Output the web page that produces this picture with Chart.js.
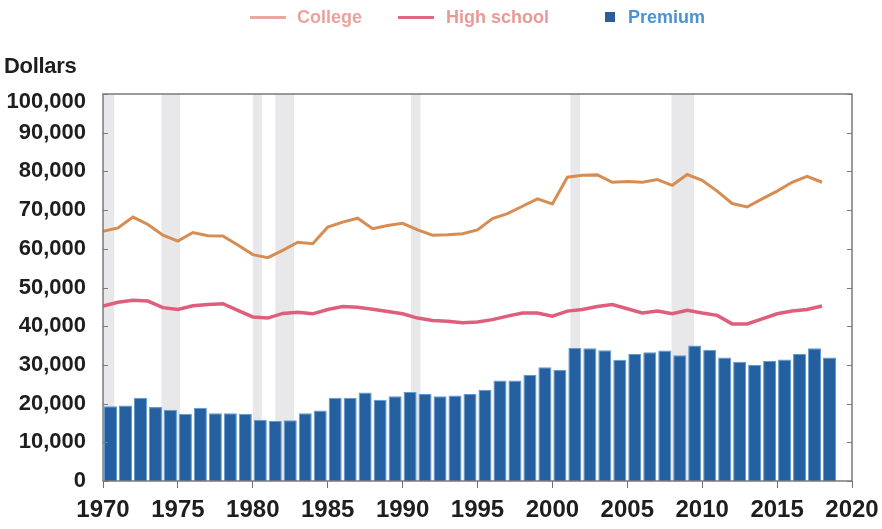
<!DOCTYPE html>
<html><head><meta charset="utf-8">
<script src="https://cdn.jsdelivr.net/npm/chart.js@4.4.1/dist/chart.umd.min.js"></script>
<style>
html,body{margin:0;padding:0;background:#fff;}
#wrap{position:relative;width:882px;height:529px;overflow:hidden;}
#c{position:absolute;left:0;top:0;}
.t{position:absolute;font-family:"Liberation Sans",Arial,sans-serif;font-weight:bold;white-space:nowrap;}
.sw{position:absolute;}
</style></head>
<body><div id="wrap"><canvas id="c" width="882" height="529"></canvas>
<div class="t" id="ytitle" style="left:4px;top:53px;font-size:22px;color:#1e1e1e;letter-spacing:-0.3px;">Dollars</div>
<div id="legend"></div>
</div>
<script>
const years = [1970,1971,1972,1973,1974,1975,1976,1977,1978,1979,1980,1981,1982,1983,1984,1985,1986,1987,1988,1989,1990,1991,1992,1993,1994,1995,1996,1997,1998,1999,2000,2001,2002,2003,2004,2005,2006,2007,2008,2009,2010,2011,2012,2013,2014,2015,2016,2017,2018];
const college = [64500,65400,68200,66300,63500,62000,64200,63400,63300,61000,
                 58500,57700,59600,61700,61300,65600,66900,67900,65200,66000,
                 66600,64900,63500,63600,63900,64900,67800,69100,71000,72900,
                 71600,78500,79000,79100,77200,77400,77200,77900,76400,79200,
                 77700,74900,71700,70800,72900,74900,77200,78700,77200];
const highSchool = [45200,46200,46700,46500,44800,44300,45300,45600,45800,44100,
                    42400,42100,43300,43600,43200,44300,45100,44900,44400,43800,
                    43200,42100,41500,41300,40900,41100,41700,42600,43400,43400,
                    42600,43900,44300,45100,45600,44500,43400,43900,43200,44100,
                    43400,42800,40600,40600,41900,43200,43900,44300,45200];
const premium = [19300,19500,21500,19100,18400,17400,18900,17500,17500,17400,
                 15800,15500,15700,17500,18200,21500,21500,22900,21000,21900,
                 23000,22500,21900,22100,22500,23600,26000,26000,27400,29400,
                 28700,34400,34300,33800,31300,32800,33300,33700,32500,35000,
                 33900,31900,30800,30000,31000,31400,32800,34300,31900];
// one bar slot per year, the last (2019) slot left empty
const barSlots = years.concat([2019]);
const recessions = [[1969.92,1970.75],[1973.9,1975.15],[1980.0,1980.6],[1981.5,1982.75],[1990.55,1991.2],[2001.2,2001.85],[2007.95,2009.45]];
const xMin = 1970, xMax = 2020, xStep = 5;
const yMin = 0, yMax = 100000, yStep = 10000;

const seriesNames = ['College','High school','Premium'];
const lineColors = ['#d78c52','#df5e7c'];
const barFill = '#245f9f', barEdge = '#5e9bd2';

// legend (html text)
const legendSpec = [
  {name:seriesNames[0], kind:'line', sw:'#eaa6a0', txt:'#eaa29c', sx:250, tx:297},
  {name:seriesNames[1], kind:'line', sw:'#dc6a82', txt:'#e99a96', sx:398, tx:446},
  {name:seriesNames[2], kind:'box',  sw:'#2b5c9c', txt:'#4a93d0', sx:605, tx:628}
];
const lg = document.getElementById('legend');
legendSpec.forEach(it=>{
  const s = document.createElement('div'); s.className='sw';
  if(it.kind==='line'){ s.style.cssText=`left:${it.sx}px;top:16px;width:36px;height:3px;background:${it.sw};`; }
  else { s.style.cssText=`left:${it.sx}px;top:12px;width:10px;height:10px;background:${it.sw};`; }
  lg.appendChild(s);
  const t = document.createElement('div'); t.className='t';
  t.style.cssText=`left:${it.tx}px;top:7px;font-size:18px;color:${it.txt};`;
  t.textContent = it.name; lg.appendChild(t);
});

const yFont = {family:'"Liberation Sans", Arial, sans-serif', size:22, weight:'bold'};
const xFont = {family:'"Liberation Sans Narrow", "Liberation Sans", Arial, sans-serif', size:24, weight:'bold'};

const framePlugin = {
  id:'frame',
  beforeDraw(chart){
    // nudge the top y label down a little, as in the reference
    const y = chart.scales.y;
    const items = y.getLabelItems();
    items.forEach(it=>{ if(it.label === yMax.toLocaleString('en-US') && !it._nudged){ it.options.translation[1] += 8; it._nudged = true; } });
  },
  beforeDatasetsDraw(chart){
    const {ctx, chartArea:a, scales:{x}} = chart;
    ctx.save();
    ctx.fillStyle = '#e8e8ea';
    recessions.forEach(([s,e])=>{
      const x0 = Math.max(a.left, x.getPixelForValue(s));
      const x1 = Math.min(a.right, x.getPixelForValue(e));
      ctx.fillRect(x0, a.top, x1-x0, a.bottom-a.top);
    });
    ctx.restore();
  },
  afterDatasetsDraw(chart){
    const {ctx, chartArea:a, scales:{y}} = chart;
    ctx.save();
    ctx.strokeStyle = '#7a7a7a'; ctx.lineWidth = 1.5;
    ctx.strokeRect(a.left, a.top, a.right-a.left, a.bottom-a.top);
    ctx.lineWidth = 1;
    y.ticks.forEach(t=>{
      const py = Math.round(y.getPixelForValue(t.value))+0.5;
      ctx.beginPath();
      ctx.moveTo(a.left, py); ctx.lineTo(a.left+5, py);
      ctx.moveTo(a.right-5, py); ctx.lineTo(a.right, py);
      ctx.stroke();
    });
    ctx.restore();
  }
};

new Chart(document.getElementById('c'), {
  type:'bar',
  data:{
    labels: barSlots,
    datasets:[
      {type:'line', label:seriesNames[0], data: years.map((yr,i)=>({x:yr, y:college[i]})), xAxisID:'x', yAxisID:'y',
       borderColor:lineColors[0], borderWidth:3, pointRadius:0, tension:0, order:0},
      {type:'line', label:seriesNames[1], data: years.map((yr,i)=>({x:yr, y:highSchool[i]})), xAxisID:'x', yAxisID:'y',
       borderColor:lineColors[1], borderWidth:3.5, pointRadius:0, tension:0, order:1},
      {type:'bar', label:seriesNames[2], data: premium, xAxisID:'xb', yAxisID:'y', grouped:false,
       backgroundColor:barFill, borderColor:barEdge, borderWidth:1, barPercentage:0.87, categoryPercentage:1, order:2}
    ]
  },
  options:{
    responsive:false, animation:false, devicePixelRatio:1,
    layout:{padding:{top:94, right:30, left:0, bottom:0}},
    plugins:{legend:{display:false}, tooltip:{enabled:false}},
    scales:{
      x:{type:'linear', position:'bottom', min:xMin, max:xMax, offset:false,
         ticks:{stepSize:xStep, font:xFont, color:'#1e1e1e', padding:8, maxRotation:0, callback:v=>String(v)},
         grid:{offset:false, drawOnChartArea:false, drawTicks:true, tickLength:7, color:'#707070'},
         border:{display:false},
         afterFit(s){ s.height = 48; s.paddingLeft = 0; s.paddingRight = 0; }},
      xb:{type:'category', display:false, offset:true},
      y:{type:'linear', min:yMin, max:yMax,
         ticks:{stepSize:yStep, font:yFont, color:'#1e1e1e', padding:17, callback:v=>v.toLocaleString('en-US')},
         grid:{display:false, drawTicks:false},
         border:{display:false},
         afterFit(s){ s.width = 103; s.paddingTop = 0; s.paddingBottom = 0; }}
    }
  },
  plugins:[framePlugin]
});
</script>
</body></html>
